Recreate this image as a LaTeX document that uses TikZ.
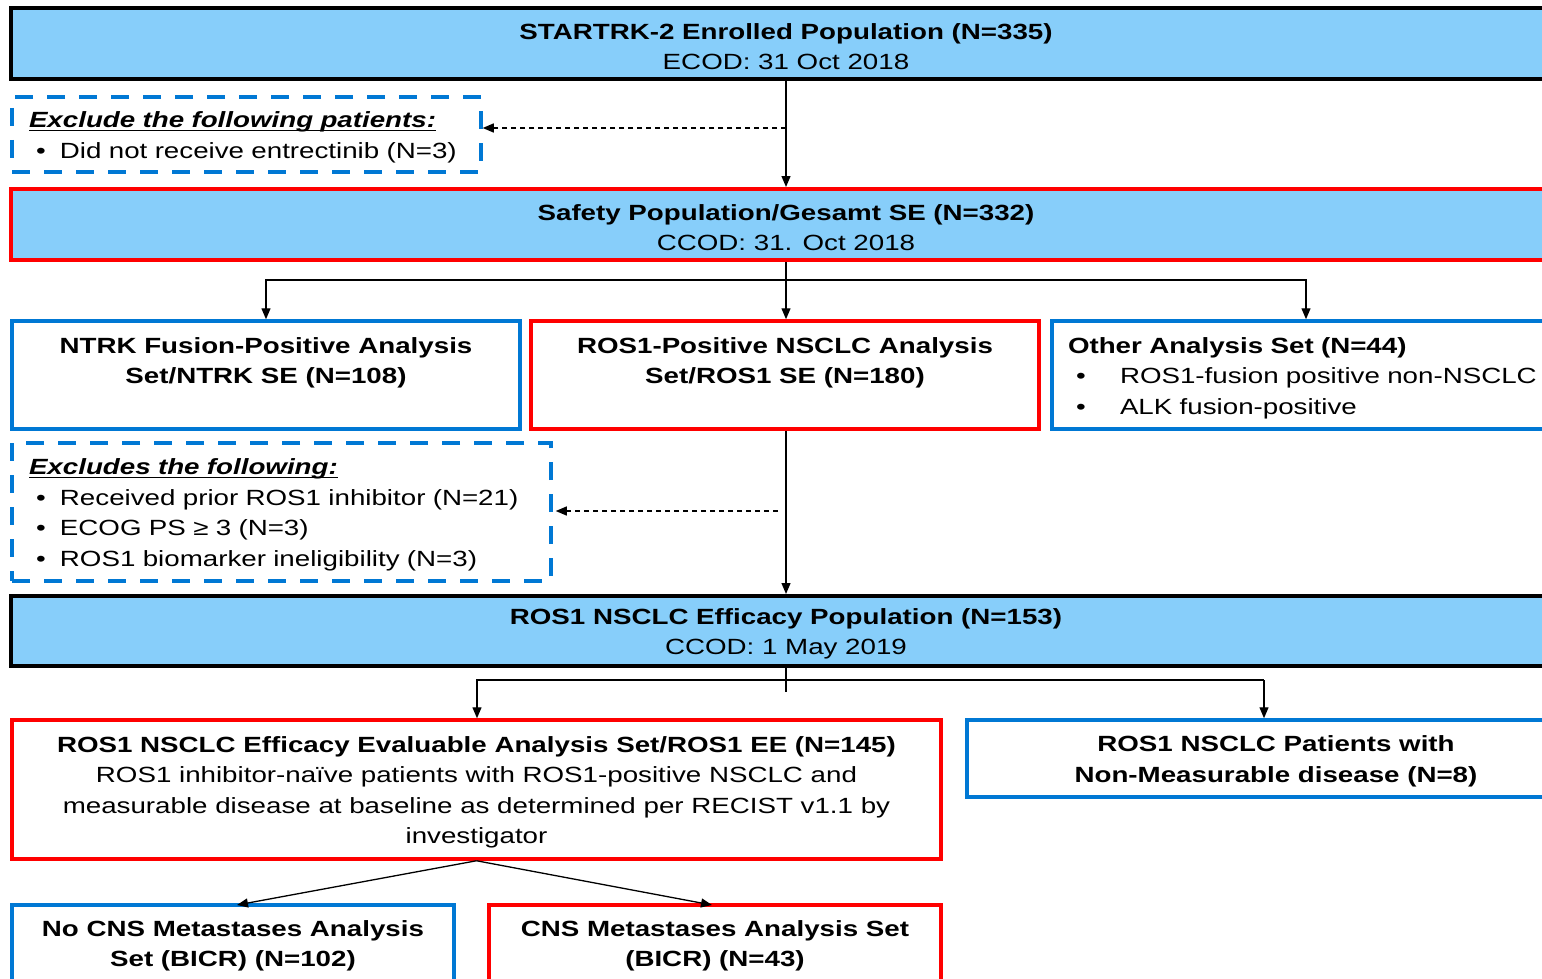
\documentclass[tikz,border=0pt]{standalone}
\usepackage{fontspec}
\setmainfont{Liberation Sans}[FakeStretch=1.26]
\usetikzlibrary{arrows.meta,calc}
\definecolor{popfill}{RGB}{135,206,250}
\definecolor{setblue}{RGB}{0,120,212}
\definecolor{setred}{RGB}{255,0,0}
% underlined heading with a rule just below the baseline
\newcommand\headline[1]{\setbox0\hbox{#1}\rlap{\rule[-3.5pt]{\wd0}{1.6pt}}\box0}
\newcommand\bul[2]{\hspace*{#1}\makebox[#2][l]{\textbullet}}
% taller first line so the text block sits a little lower in its box
\newcommand\fs{\rule{0pt}{22pt}}
\begin{document}
\begin{tikzpicture}[x=1pt,y=-1pt,
  font=\fontsize{22}{30.5}\selectfont,
  base/.style={rectangle, line width=3.5pt, inner sep=0pt, align=center},
  popbox/.style={base, draw=black, fill=popfill, line width=4pt},
  redbox/.style={base, draw=setred},
  bluebox/.style={base, draw=setblue},
  exclbox/.style={base, draw=setblue, dash pattern=on 18pt off 14pt, align=left, inner xsep=17pt},
  txt/.style={inner sep=0pt, align=center},
  arr/.style={line width=1.3pt, -{Triangle[length=11pt,width=9pt]}},
  darr/.style={arr, dash pattern=on 5pt off 4pt}]
\useasboundingbox (0,0) rectangle (1542,979);
\clip (0,0) rectangle (1542,979);

% population boxes
\node[popbox, minimum width=1550pt, minimum height=71pt] (enr) at (786,43.5)
  {\fs\textbf{STARTRK-2 Enrolled Population (N=335)}\\ECOD: 31 Oct 2018};
\node[exclbox, text width=435pt, minimum height=75pt] (exc1) at (246.5,134.5)
  {\fs\headline{\textbf{\textit{Exclude the following patients:}}}\\
   \bul{7pt}{24pt}Did not receive entrectinib (N=3)};
\node[popbox, draw=setred, minimum width=1550pt, minimum height=71pt] (saf) at (786,224.5)
  {\fs\textbf{Safety Population/Gesamt SE (N=332)}\\CCOD: 31. Oct 2018};

% analysis sets
\node[bluebox, minimum width=508pt, minimum height=108pt] (ntrk) at (266,375) {};
\node[txt] (ntrkT) at (266,360) {\fs\textbf{NTRK Fusion-Positive Analysis}\\\textbf{Set/NTRK SE (N=108)}};
\node[redbox, minimum width=508pt, minimum height=108pt] (ros) at (785,375) {};
\node[txt] (rosT) at (785,360) {\fs\textbf{ROS1-Positive NSCLC Analysis}\\\textbf{Set/ROS1 SE (N=180)}};
\node[bluebox, align=left, inner xsep=16pt, text width=502pt, minimum height=108pt] (oth) at (1319,375)
  {\fs\textbf{Other Analysis Set (N=44)}\\
   \bul{8pt}{44pt}ROS1-fusion positive non-NSCLC\\
   \bul{8pt}{44pt}ALK fusion-positive};

\node[exclbox, text width=505pt, minimum height=138pt] (exc2) at (281.5,512)
  {\fs\headline{\textbf{\textit{Excludes the following:}}}\\
   \bul{7pt}{24pt}Received prior ROS1 inhibitor (N=21)\\
   \bul{7pt}{24pt}ECOG PS ≥ 3 (N=3)\\
   \bul{7pt}{24pt}ROS1 biomarker ineligibility (N=3)};

\node[popbox, minimum width=1550pt, minimum height=70pt] (eff) at (786,631)
  {\fs\textbf{ROS1 NSCLC Efficacy Population (N=153)}\\CCOD: 1 May 2019};

\node[redbox, minimum width=929pt, minimum height=139pt] (ee) at (476.5,789.5)
  {\fs\textbf{ROS1 NSCLC Efficacy Evaluable Analysis Set/ROS1 EE (N=145)}\\
   ROS1 inhibitor-naïve patients with ROS1-positive NSCLC and\\
   measurable disease at baseline as determined per RECIST v1.1 by\\
   investigator};
\node[bluebox, minimum width=618pt, minimum height=77pt] (nm) at (1276,758.5)
  {\fs\textbf{ROS1 NSCLC Patients with}\\\textbf{Non-Measurable disease (N=8)}};

\node[bluebox, minimum width=442pt, minimum height=76pt] (nocns) at (233,943)
  {\fs\textbf{No CNS Metastases Analysis}\\\textbf{Set (BICR) (N=102)}};
\node[redbox, minimum width=452pt, minimum height=76pt] (cns) at (715,943)
  {\fs\textbf{CNS Metastases Analysis Set}\\\textbf{(BICR) (N=43)}};

% connectors
\coordinate (j1) at (786,128);
\draw[arr] (enr.south) -- (saf.north);
\draw[darr] (j1) -- (exc1.east |- j1);

\coordinate (s1) at (786,280);
\coordinate (o1) at (1306,280);
\draw[line width=1.3pt] (saf.south) -- (s1);
\draw[arr] (s1) -| (ntrk.north);
\draw[arr] (s1) -- (s1 |- ros.north);
\draw[arr] (s1) -- (o1) -- (o1 |- oth.north);

\coordinate (j2) at (778,511);
\draw[arr] (ros.south -| s1) -- (s1 |- eff.north);
\draw[darr] (j2) -- ($(exc2.east |- j2)+(3,0)$);

\coordinate (e0) at (786,692);
\coordinate (e1) at (477,680);
\coordinate (e2) at (1264,680);
\draw[line width=1.3pt] (eff.south) -- (e0);
\draw[arr] (e2) -- (e1) -- (e1 |- ee.north);
\draw[arr] (e2) -- (e2 |- nm.north);

\coordinate (c1) at (237,905);
\coordinate (c2) at (712,905);
\draw[arr] (ee.south) -- (c1);
\draw[arr] (ee.south) -- (c2);
\end{tikzpicture}
\end{document}
